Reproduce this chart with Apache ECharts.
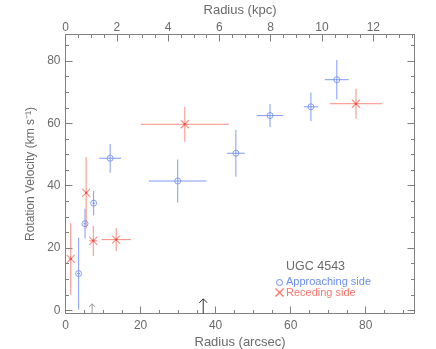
<!DOCTYPE html>
<html><head><meta charset="utf-8">
<script src="https://cdn.jsdelivr.net/npm/echarts@6/dist/echarts.min.js"></script>
<style>html,body{margin:0;padding:0;background:#fff}#c{width:436px;height:349px}</style>
</head><body><div id="c"></div>
<script>
// ---- data ----
const approachR   = [3.5, 5.2, 7.5, 11.9, 29.9, 45.4, 54.5, 65.4, 72.3];      // arcsec
const approachV   = [11.8, 27.8, 34.4, 48.8, 41.5, 50.4, 62.5, 65.3, 74.0];  // km/s
const approachRerr= [0.4, 0.4, 0.4, 2.9, 7.7, 2.4, 3.5, 1.9, 3.2];
const approachVerr= [11.5, 4.8, 3.9, 4.6, 6.9, 7.5, 3.7, 4.6, 6.3];
const recedeR     = [1.4, 5.5, 7.4, 13.5, 31.8, 77.4];
const recedeV     = [16.5, 37.7, 22.3, 22.7, 59.7, 66.3];
const recedeRerr  = [0.3, 0.3, 1.1, 3.9, 11.7, 7.0];
const recedeVerr  = [11.5, 11.5, 4.8, 3.7, 5.6, 4.8];
const arrowR      = [7.1, 36.7];
const arrowTop    = [2.1, 3.7];
const arrowColors = ['#9a9a9a', '#333333'];
const xTicks = [0, 20, 40, 60, 80];
const yTicks = [0, 20, 40, 60, 80];
const yMinorTicks = [0, 5, 10, 15, 20, 25, 30, 35, 40, 45, 50, 55, 60, 65, 70, 75, 80, 85];
const kpcTicks = [0, 2, 4, 6, 8, 10, 12];
const X_MAX = 93, Y_MIN = -1, Y_MAX = 88.5;
const KPC_PER_ARCSEC = 0.1463;

const BLUE = '#6b8cf2', RED = '#f8786c', AX = '#808080', TXT = '#6a6a6a';
const FONT = 'Liberation Sans';

const chart = echarts.init(document.getElementById('c'), null, {renderer: 'canvas'});

function errSeries(xs, ys, xe, ye, color) {
  return {
    type: 'custom', xAxisIndex: 0, yAxisIndex: 0, z: 2, silent: true,
    data: xs.map((x, i) => [x, ys[i], xe[i], ye[i]]),
    renderItem(params, api) {
      const x = api.value(0), y = api.value(1), dx = api.value(2), dy = api.value(3);
      const a = api.coord([x - dx, y]), b = api.coord([x + dx, y]);
      const c = api.coord([x, y - dy]), d = api.coord([x, y + dy]);
      const st = {stroke: color, lineWidth: 1, opacity: 0.85};
      return {type: 'group', children: [
        {type: 'line', shape: {x1: a[0], y1: a[1], x2: b[0], y2: b[1]}, style: st},
        {type: 'line', shape: {x1: c[0], y1: c[1], x2: d[0], y2: d[1]}, style: st}
      ]};
    }
  };
}

const arrowSeries = {
  type: 'custom', xAxisIndex: 0, yAxisIndex: 0, z: 3, silent: true,
  data: arrowR.map((x, i) => [x, arrowTop[i], i]),
  renderItem(params, api) {
    const x = api.value(0), t = api.value(1), i = api.value(2);
    const base = api.coord([x, Y_MIN]), tip = api.coord([x, t]);
    const col = arrowColors[i];
    const st = {stroke: col, lineWidth: 1};
    const h = i === 0 ? 3 : 4;
    return {type: 'group', children: [
      {type: 'line', shape: {x1: base[0], y1: base[1], x2: tip[0], y2: tip[1]}, style: st},
      {type: 'polyline', shape: {points: [[tip[0] - h, tip[1] + h], [tip[0], tip[1]], [tip[0] + h, tip[1] + h]]}, style: Object.assign({fill: 'none'}, st)}
    ]};
  }
};

const crossPath = 'path://M0,0L10,10M10,0L0,10';

function xAxisDef(pos, min, max, interval, tickLen, labels, name, gap, margin) {
  return {
    type: 'value', position: pos, min: min, max: max, interval: interval,
    name: name || '', nameLocation: 'middle', nameGap: gap || 20,
    nameTextStyle: {color: TXT, fontFamily: FONT, fontSize: 13},
    axisLine: {show: true, onZero: false, lineStyle: {color: AX, width: 1}},
    axisTick: {show: true, inside: true, length: tickLen, lineStyle: {color: AX}},
    axisLabel: {show: !!labels, color: TXT, fontFamily: FONT, fontSize: 12, margin: margin,
                showMaxLabel: false,
                formatter: v => (labels && labels.indexOf(v) >= 0 ? String(v) : '')},
    splitLine: {show: false}
  };
}
function yAxisDef(pos, ticks, tickLen, showLabels, name) {
  return {
    type: 'value', position: pos, min: Y_MIN, max: Y_MAX,
    name: name || '', nameLocation: 'middle', nameGap: 22, nameRotate: 90,
    nameTextStyle: {color: TXT, fontFamily: FONT, fontSize: 12},
    axisLine: {show: true, onZero: false, lineStyle: {color: AX, width: 1}},
    axisTick: {show: true, inside: true, length: tickLen, lineStyle: {color: AX}, customValues: ticks},
    axisLabel: {show: showLabels, color: TXT, fontFamily: FONT, fontSize: 12, margin: 5,
                customValues: ticks},
    splitLine: {show: false}
  };
}

const kmax = X_MAX * KPC_PER_ARCSEC;

chart.setOption({
  animation: false,
  backgroundColor: '#fff',
  grid: {left: 65.5, right: 21.5, top: 34.5, bottom: 35.5, containLabel: false, outerBoundsMode: 'none'},
  xAxis: [
    xAxisDef('bottom', 0, X_MAX, 20, 7, xTicks, 'Radius (arcsec)', 22, 6),
    xAxisDef('bottom', 0, X_MAX, 5, 3.5, null, '', 20, 5),
    xAxisDef('top', 0, kmax, 2, 7, kpcTicks, 'Radius (kpc)', 7, 1),
    xAxisDef('top', 0, kmax, 0.5, 3.5, null, '', 20, 5)
  ],
  yAxis: [
    yAxisDef('left', yTicks, 7, true, 'Rotation Velocity (km s\u207B\u00B9)'),
    yAxisDef('left', yMinorTicks, 3.5, false),
    yAxisDef('right', yTicks, 7, false),
    yAxisDef('right', yMinorTicks, 3.5, false)
  ],
  series: [
    errSeries(approachR, approachV, approachRerr, approachVerr, BLUE),
    errSeries(recedeR, recedeV, recedeRerr, recedeVerr, RED),
    {type: 'scatter', name: 'Approaching side', xAxisIndex: 0, yAxisIndex: 0, z: 4,
     symbol: 'circle', symbolSize: 6,
     itemStyle: {color: 'rgba(255,255,255,0)', borderColor: BLUE, borderWidth: 1},
     data: approachR.map((x, i) => [x, approachV[i]])},
    {type: 'scatter', name: 'Receding side', xAxisIndex: 0, yAxisIndex: 0, z: 4,
     symbol: crossPath, symbolSize: 8,
     itemStyle: {color: 'none', borderColor: RED, borderWidth: 1.2},
     data: recedeR.map((x, i) => [x, recedeV[i]])},
    {type: 'scatter', xAxisIndex: 0, yAxisIndex: 0, z: 5, symbol: 'circle', symbolSize: 2.5,
     itemStyle: {color: '#e8463a'}, data: recedeR.map((x, i) => [x, recedeV[i]])},
    arrowSeries
  ],
  graphic: [
    {type: 'text', left: 286, top: 260, style: {text: 'UGC 4543', fill: TXT, font: '12.5px "Liberation Sans"'}},
    {type: 'circle', shape: {cx: 279.5, cy: 282.5, r: 3}, style: {fill: 'none', stroke: BLUE, lineWidth: 1}},
    {type: 'text', left: 286, top: 276, style: {text: 'Approaching side', fill: BLUE, font: '11px "Liberation Sans"'}},
    {type: 'polyline', shape: {points: [[275.5, 288.5], [283.5, 296.5]]}, style: {stroke: RED, lineWidth: 1.2}},
    {type: 'polyline', shape: {points: [[283.5, 288.5], [275.5, 296.5]]}, style: {stroke: RED, lineWidth: 1.2}},
    {type: 'text', left: 286, top: 287, style: {text: 'Receding side', fill: RED, font: '11px "Liberation Sans"'}}
  ]
});
</script></body></html>
